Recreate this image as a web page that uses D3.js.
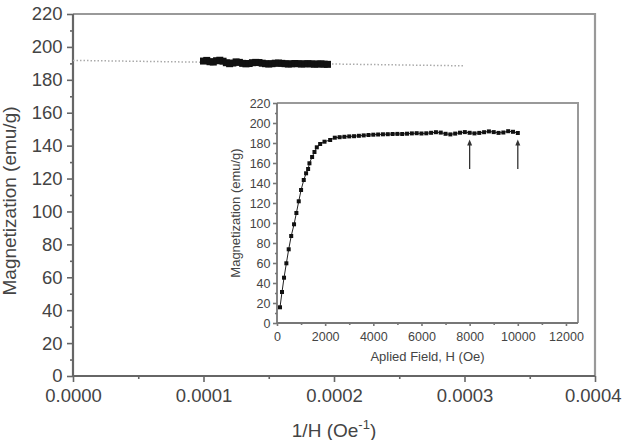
<!DOCTYPE html>
<html>
<head>
<meta charset="utf-8">
<script src="https://cdn.jsdelivr.net/npm/d3@7"></script>
<style>
  body { margin: 0; background: #fff; }
  svg text { font-family: "Liberation Sans", Arial, sans-serif; fill: #444; }
</style>
</head>
<body>
<svg id="chart" width="622" height="440"></svg>
<script>
// main panel: magnetization vs 1/H (values in units of 1e-4 Oe^-1)
const mainInvH = [1.000, 1.025, 1.050, 1.075, 1.100, 1.125, 1.150, 1.175, 1.200, 1.225,
                  1.250, 1.275, 1.300, 1.325, 1.350, 1.375, 1.400, 1.425, 1.450, 1.475,
                  1.500, 1.525, 1.550, 1.575, 1.600, 1.625, 1.650, 1.675, 1.700, 1.725,
                  1.750, 1.775, 1.800, 1.825, 1.850, 1.875, 1.900, 1.925, 1.950].map(v => v * 1e-4);
const mainM = [191.4, 191.8, 191.0, 190.8, 191.6, 191.9, 191.3, 190.4, 189.8, 190.2,
               190.9, 190.6, 190.0, 189.7, 189.9, 190.4, 190.6, 190.5, 190.1, 189.8,
               189.6, 189.8, 190.1, 190.2, 190.0, 189.8, 189.6, 189.7, 189.9, 189.8,
               189.6, 189.7, 189.8, 189.7, 189.5, 189.6, 189.7, 189.5, 189.4];
// linear fit (dotted)
const fitInvH = [0, 0.0003];
const fitM = [191.8, 188.5];

const mainXTicks = [0, 0.0001, 0.0002, 0.0003, 0.0004];
const mainXMinor = [0.00005, 0.00015, 0.00025, 0.00035];
const mainYTicks = [0, 20, 40, 60, 80, 100, 120, 140, 160, 180, 200, 220];
const mainYMinor = [10, 30, 50, 70, 90, 110, 130, 150, 170, 190, 210];

// inset: magnetization vs applied field
const insetH = [125, 208, 292, 389, 486, 590, 708, 805, 903, 1000,
                1111, 1208, 1292, 1347, 1458, 1556, 1653, 1792, 1972, 2208,
                2400, 2600, 2800, 3000, 3200, 3400, 3600, 3800, 4000, 4200,
                4400, 4600, 4800, 5000, 5200, 5400, 5600, 5800, 6000, 6200,
                6400, 6600, 6800, 7000, 7200, 7400, 7600, 7800, 8000, 8200,
                8400, 8600, 8800, 9000, 9200, 9400, 9600, 9800, 10000];
const insetM = [15.7, 31, 45.3, 59.7, 73.7, 87, 98.7, 110, 121.7, 133,
                143, 149.7, 154, 159.7, 166, 171, 175.7, 179, 181.3, 183,
                185.3, 185.8, 186.2, 186.6, 186.8, 187.2, 187.6, 188.0, 188.3, 188.5,
                188.7, 188.8, 189.0, 189.1, 189.0, 189.3, 189.6, 189.8, 189.5, 189.7,
                190.2, 190.8, 190.4, 189.2, 188.6, 189.4, 190.3, 190.9, 190.2, 189.6,
                190.1, 190.8, 191.6, 190.9, 190.1, 190.5, 191.8, 191.2, 190.0];
const arrowH = [8000, 10000];
const arrowFromM = 154;
const arrowToM = 183.5;

const insetXTicks = [0, 2000, 4000, 6000, 8000, 10000, 12000];
const insetXMinor = [1000, 3000, 5000, 7000, 9000, 11000];
const insetYTicks = [0, 20, 40, 60, 80, 100, 120, 140, 160, 180, 200, 220];
const insetYMinor = [10, 30, 50, 70, 90, 110, 130, 150, 170, 190, 210];

const svg = d3.select('#chart');

// ---------- main panel ----------
const main = { left: 73, right: 595, top: 14, bottom: 376 };
const x = d3.scaleLinear().domain([0, 0.0004]).range([main.left, main.right]);
const y = d3.scaleLinear().domain([0, 220]).range([main.bottom, main.top]);

function styleAxis(g, size, stroke) {
  g.select('.domain').remove();
  g.selectAll('line').attr('stroke', stroke).attr('stroke-width', 1.6);
  g.selectAll('text').attr('fill', '#444').style('font-size', size);
}

svg.append('g')
  .attr('transform', `translate(${main.left},0)`)
  .call(d3.axisLeft(y).tickValues(mainYTicks).tickSize(6).tickPadding(4.5))
  .call(g => styleAxis(g, '18.5px', '#666'));
svg.append('g')
  .attr('transform', `translate(${main.left},0)`)
  .call(d3.axisLeft(y).tickValues(mainYMinor).tickSize(3).tickFormat(''))
  .call(g => styleAxis(g, '18.5px', '#666'));

svg.append('g')
  .attr('transform', `translate(0,${main.bottom})`)
  .call(d3.axisBottom(x).tickValues(mainXTicks).tickSize(6).tickPadding(7).tickFormat(d3.format('.4f')))
  .call(g => styleAxis(g, '18.5px', '#666'))
  // last label sits against the page edge, as in the original
  .call(g => g.selectAll('.tick:last-of-type text').attr('text-anchor', 'end').attr('x', 26));
svg.append('g')
  .attr('transform', `translate(0,${main.bottom})`)
  .call(d3.axisBottom(x).tickValues(mainXMinor).tickSize(3).tickFormat(''))
  .call(g => styleAxis(g, '18.5px', '#666'));

// frame
svg.append('path')
  .attr('d', `M${main.left},${main.top}H${main.right}V${main.bottom}`)
  .attr('fill', 'none').attr('stroke', '#999').attr('stroke-width', 2.2);
svg.append('path')
  .attr('d', `M${main.left},${main.top}V${main.bottom}H${main.right}`)
  .attr('fill', 'none').attr('stroke', '#666').attr('stroke-width', 2.2);

// dotted fit line
svg.append('path')
  .datum(d3.zip(fitInvH, fitM))
  .attr('d', d3.line().x(d => x(d[0])).y(d => y(d[1])))
  .attr('fill', 'none')
  .attr('stroke', '#aaa')
  .attr('stroke-width', 1.5)
  .attr('stroke-dasharray', '1.5,2');

svg.append('g').selectAll('rect')
  .data(d3.zip(mainInvH, mainM))
  .enter()
  .append('rect')
  .attr('x', d => x(d[0]) - 3.5)
  .attr('y', d => y(d[1]) - 3.5)
  .attr('width', 7)
  .attr('height', 7)
  .attr('fill', '#111');

svg.append('text')
  .attr('transform', `translate(16,201) rotate(-90)`)
  .style('font-size', '19px')
  .style('text-anchor', 'middle')
  .text('Magnetization (emu/g)');

const xt = svg.append('text')
  .attr('x', (main.left + main.right) / 2)
  .attr('y', 437)
  .style('font-size', '19px')
  .style('text-anchor', 'middle');
xt.append('tspan').text('1/H (Oe');
xt.append('tspan').attr('dy', -8).style('font-size', '13px').text('-1');
xt.append('tspan').attr('dy', 8).text(')');

// ---------- inset ----------
const ins = { left: 277, right: 578, top: 103, bottom: 323 };
const ix = d3.scaleLinear().domain([0, 12500]).range([ins.left, ins.right]);
const iy = d3.scaleLinear().domain([0, 220]).range([ins.bottom, ins.top]);

svg.append('g')
  .attr('transform', `translate(${ins.left},0)`)
  .call(d3.axisLeft(iy).tickValues(insetYTicks).tickSize(4).tickPadding(2.5))
  .call(g => styleAxis(g, '12.5px', '#777'));
svg.append('g')
  .attr('transform', `translate(${ins.left},0)`)
  .call(d3.axisLeft(iy).tickValues(insetYMinor).tickSize(2).tickFormat(''))
  .call(g => styleAxis(g, '12.5px', '#777'));
svg.append('g')
  .attr('transform', `translate(0,${ins.bottom})`)
  .call(d3.axisBottom(ix).tickValues(insetXTicks).tickSize(3).tickPadding(6).tickFormat(d3.format('d')))
  .call(g => styleAxis(g, '12.5px', '#777'));
svg.append('g')
  .attr('transform', `translate(0,${ins.bottom})`)
  .call(d3.axisBottom(ix).tickValues(insetXMinor).tickSize(2).tickFormat(''))
  .call(g => styleAxis(g, '12.5px', '#777'));

svg.append('path')
  .attr('d', `M${ins.left},${ins.top}H${ins.right}V${ins.bottom}`)
  .attr('fill', 'none').attr('stroke', '#999').attr('stroke-width', 2);
svg.append('path')
  .attr('d', `M${ins.left},${ins.top}V${ins.bottom}H${ins.right}`)
  .attr('fill', 'none').attr('stroke', '#777').attr('stroke-width', 1.8);

svg.append('path')
  .datum(d3.zip(insetH, insetM))
  .attr('d', d3.line().x(d => ix(d[0])).y(d => iy(d[1])))
  .attr('fill', 'none')
  .attr('stroke', '#222')
  .attr('stroke-width', 1);

svg.append('g').selectAll('rect')
  .data(d3.zip(insetH, insetM))
  .enter()
  .append('rect')
  .attr('x', d => ix(d[0]) - 2)
  .attr('y', d => iy(d[1]) - 2)
  .attr('width', 4)
  .attr('height', 4)
  .attr('fill', '#111');

// arrows
const arrows = svg.append('g').selectAll('g')
  .data(arrowH)
  .enter()
  .append('g');
arrows.append('line')
  .attr('x1', d => ix(d)).attr('x2', d => ix(d))
  .attr('y1', iy(arrowFromM)).attr('y2', iy(arrowToM) + 3)
  .attr('stroke', '#333').attr('stroke-width', 1.3);
arrows.append('path')
  .attr('d', d => `M${ix(d)},${iy(arrowToM)}L${ix(d) - 2.5},${iy(arrowToM) + 6}L${ix(d) + 2.5},${iy(arrowToM) + 6}Z`)
  .attr('fill', '#333');

svg.append('text')
  .attr('transform', `translate(240,213) rotate(-90)`)
  .style('font-size', '13px')
  .style('text-anchor', 'middle')
  .text('Magnetization (emu/g)');

svg.append('text')
  .attr('x', (ins.left + ins.right) / 2)
  .attr('y', 361)
  .style('font-size', '13px')
  .style('text-anchor', 'middle')
  .text('Aplied Field, H (Oe)');
</script>
</body>
</html>
